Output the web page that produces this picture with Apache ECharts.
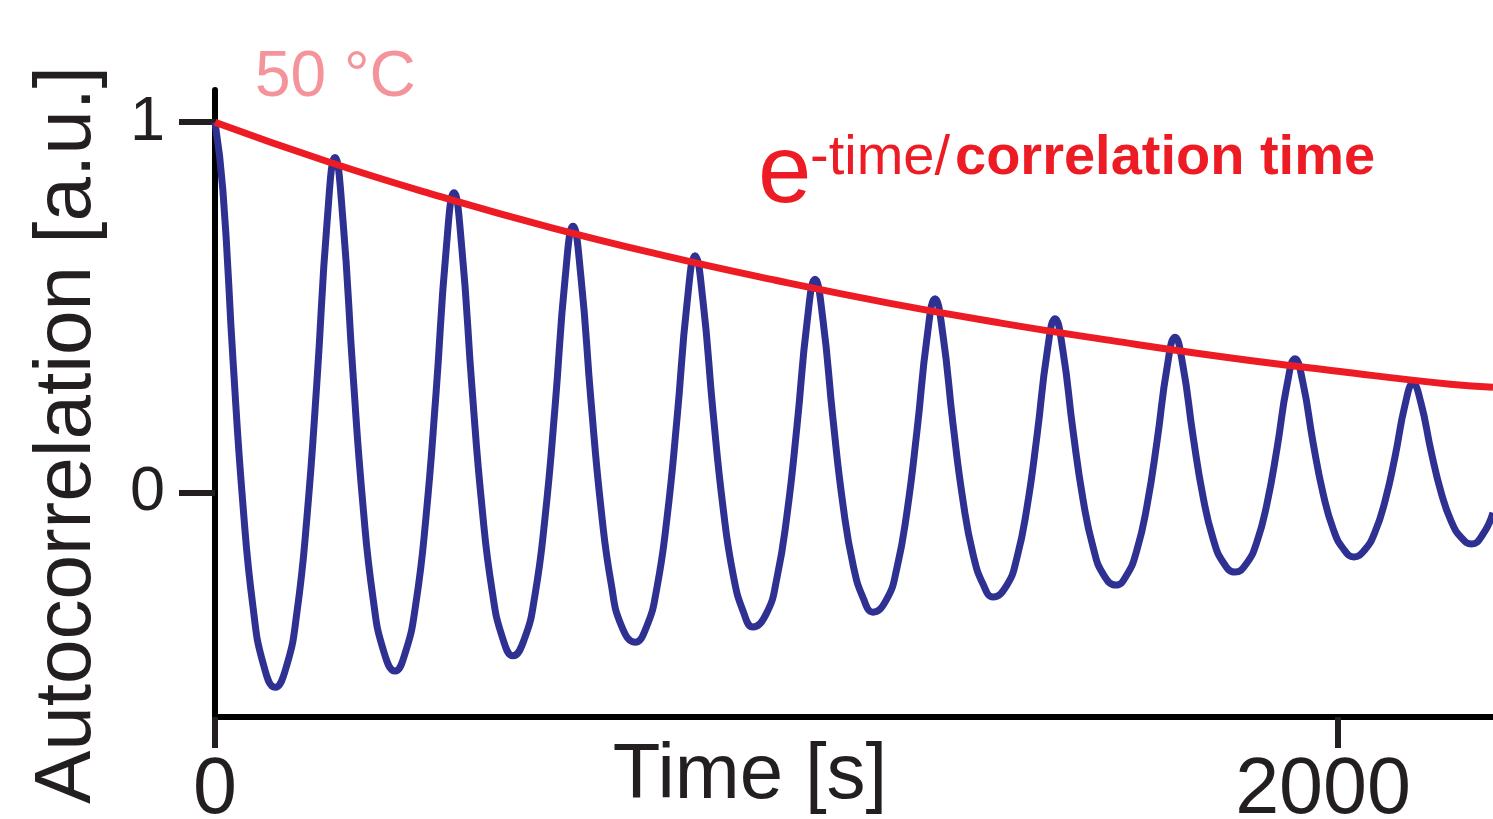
<!DOCTYPE html>
<html>
<head>
<meta charset="utf-8">
<script src="https://cdn.jsdelivr.net/npm/echarts@6/dist/echarts.min.js"></script>
<style>
html,body{margin:0;padding:0;background:#fff;}
#chart{width:1493px;height:819px;}
</style>
</head>
<body>
<div id="chart"></div>
<script>
// Oscillating autocorrelation (time in s, value in a.u.)
var timeS = [0,14,32,50,68,86,106.9,127.7,145.7,163.7,181.7,199.7,
  213.7,227.7,245.7,263.7,281.7,299.7,320.6,339.6,357.6,375.6,393.6,411.6,
  425.6,439.6,457.6,475.6,493.6,511.6,530.7,551.6,569.6,587.6,605.6,623.6,
  637.6,651.6,669.6,687.6,705.6,723.6,748,768.9,786.9,804.9,822.9,840.9,
  854.9,868.9,886.9,904.9,922.9,940.9,958,982.6,1000.6,1018.6,1036.6,1054.6,
  1068.6,1082.6,1100.6,1118.6,1136.6,1154.6,1172,1196.3,1214.3,1232.3,1250.3,1268.3,
  1282.3,1296.3,1314.3,1332.3,1350.3,1368.3,1385.6,1410,1428,1446,1464,1482,
  1496,1510,1528,1546,1564,1582,1604.6,1623.7,1641.7,1659.7,1677.7,1695.7,
  1709.7,1723.7,1741.7,1759.7,1777.7,1795.7,1816.6,1837.4,1855.4,1873.4,1891.4,1909.4,
  1923.4,1937.4,1955.4,1973.4,1991.4,2009.4,2028.5,2047.6,2065.6,2083.6,2101.6,2119.6,
  2133.6,2147.6,2165.6,2183.6,2201.6,2219.6,2238,2258,2276];
var autocorr = [1.0,0.817,0.36,-0.037,-0.312,-0.462,-0.525,-0.466,-0.325,-0.067,0.304,0.733,
  0.905,0.739,0.323,-0.037,-0.287,-0.424,-0.481,-0.428,-0.30,-0.068,0.268,0.655,
  0.81,0.66,0.285,-0.04,-0.265,-0.389,-0.44,-0.392,-0.278,-0.069,0.232,0.58,
  0.719,0.584,0.248,-0.044,-0.246,-0.358,-0.403,-0.360,-0.257,-0.069,0.202,0.515,
  0.64,0.52,0.219,-0.041,-0.222,-0.321,-0.362,-0.324,-0.231,-0.062,0.182,0.463,
  0.576,0.468,0.199,-0.035,-0.196,-0.285,-0.322,-0.287,-0.204,-0.051,0.169,0.422,
  0.524,0.427,0.186,-0.023,-0.168,-0.248,-0.281,-0.250,-0.176,-0.041,0.155,0.38,
  0.47,0.384,0.168,-0.019,-0.148,-0.220,-0.249,-0.222,-0.155,-0.035,0.139,0.34,
  0.42,0.344,0.154,-0.011,-0.125,-0.188,-0.214,-0.190,-0.133,-0.03,0.12,0.293,
  0.362,0.298,0.137,-0.002,-0.098,-0.151,-0.173,-0.154,-0.107,-0.023,0.098,0.239,
  0.295,0.243,0.113,0.001,-0.077,-0.121,-0.138,-0.112,-0.054];

// Exponential envelope
var fitT = [0,200,400,600,800,1000,1200,1400,1600,1800,2000,2200,2276];
var fitV = [1.0,0.894,0.80,0.715,0.64,0.573,0.512,0.458,0.41,0.366,0.328,0.293,0.285];

var xTicks = [0, 2000];
var yTicks = [0, 1];
var xName = 'Time [s]';
var yName = 'Autocorrelation [a.u.]';
var tempLabel = '50 °C';
var eqParts = ['e', '-time/', 'correlation time'];

var FONT = '"Liberation Sans", Arial, Helvetica, sans-serif';
var INK = '#231f20';
var RED = '#ed1c24';
var BLUE = '#2e3192';

function pairs(xs, ys){ return xs.map(function(x,i){ return [x, ys[i]]; }); }
function plain(v){ return String(v); }
function xLabel(v){ return v === 0 ? '{a|' + v + '}' : '{b|' + v + '}'; }

var chart = echarts.init(document.getElementById('chart'), null, {renderer:'canvas'});
chart.setOption({
  animation: false,
  backgroundColor: '#fff',
  grid: {left: 215, right: 0, top: 90, bottom: 102, containLabel: false, outerBoundsMode: 'none'},
  xAxis: {
    type: 'value', min: 0, max: 2276,
    splitLine: {show: false},
    axisLine: {onZero: false, lineStyle: {color: '#000', width: 6}},
    axisTick: {show: true, customValues: xTicks, length: 31, lineStyle: {color: INK, width: 6}},
    axisLabel: {customValues: xTicks, formatter: xLabel, margin: 35,
      rich: {
        a: {fontSize: 79, color: INK, fontFamily: FONT},
        b: {fontSize: 79, color: INK, fontFamily: FONT, padding: [0, 30, 0, 0]}
      }}
  },
  yAxis: {
    type: 'value', min: -0.605, max: 1.087,
    splitLine: {show: false},
    axisLine: {onZero: false, lineStyle: {color: '#000', width: 6}},
    axisTick: {show: true, customValues: yTicks, length: 36, lineStyle: {color: INK, width: 6}},
    axisLabel: {customValues: yTicks, formatter: plain, fontSize: 63, color: INK, margin: 50, fontFamily: FONT}
  },
  series: [
    {type: 'line', data: pairs(timeS, autocorr), showSymbol: false, smooth: 0.5,
     lineStyle: {color: BLUE, width: 7}, z: 2},
    {type: 'line', data: pairs(fitT, fitV), showSymbol: false, smooth: true,
     lineStyle: {color: RED, width: 7}, z: 3}
  ],
  graphic: [
    {type: 'text', x: 68, y: 435, rotation: Math.PI/2,
     style: {text: yName, fontSize: 80, fontFamily: FONT, fill: INK, align: 'center', verticalAlign: 'middle'}},
    {type: 'text', x: 750, y: 776,
     style: {text: xName, fontSize: 78, fontFamily: FONT, fill: INK, align: 'center', verticalAlign: 'middle'}},
    {type: 'text', x: 255, y: 78,
     style: {text: tempLabel, fontSize: 64, fontFamily: FONT, fill: '#f4949a', align: 'left', verticalAlign: 'middle'}},
    {type: 'text', x: 758, y: 176,
     style: {text: eqParts[0], fontSize: 96, fontFamily: FONT, fill: RED, align: 'left', verticalAlign: 'middle'}},
    {type: 'text', x: 810, y: 159,
     style: {text: eqParts[1], fontSize: 56, fontFamily: FONT, fill: RED, align: 'left', verticalAlign: 'middle'}},
    {type: 'text', x: 955, y: 159,
     style: {text: eqParts[2], fontSize: 56, fontWeight: 'bold', fontFamily: FONT, fill: RED, align: 'left', verticalAlign: 'middle'}}
  ]
});
</script>
</body>
</html>
